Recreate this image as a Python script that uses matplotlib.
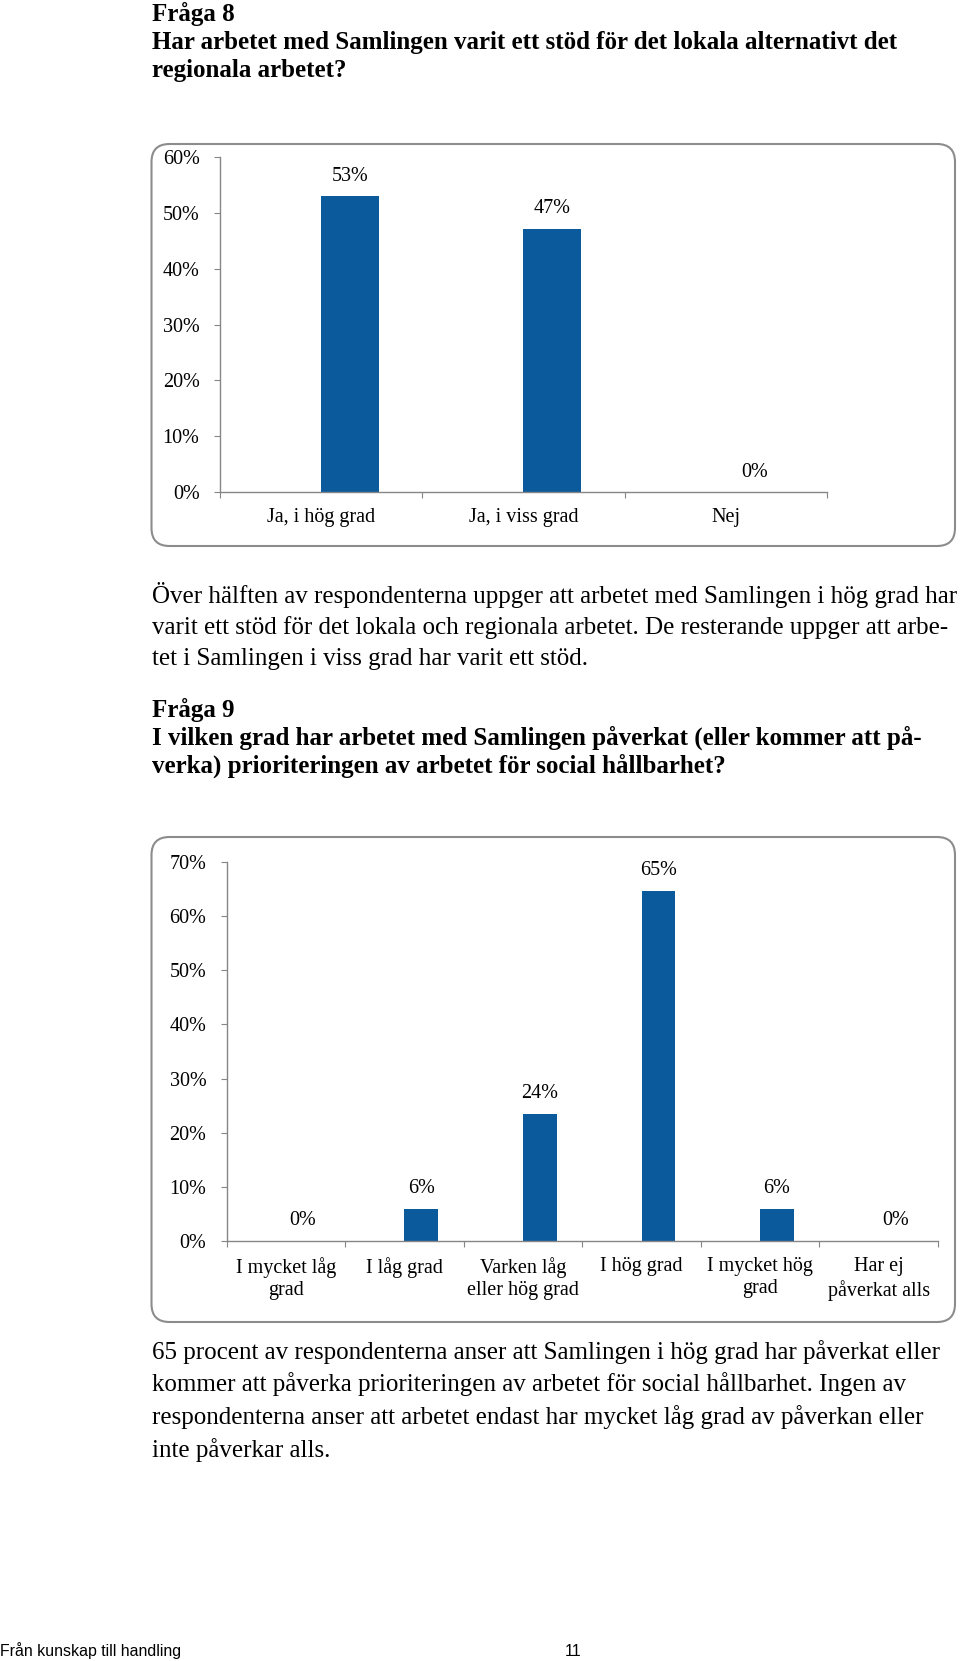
import matplotlib.pyplot as plt
from matplotlib.patches import FancyBboxPatch

plt.rcParams['font.family'] = ['Liberation Serif', 'DejaVu Serif']

W, H = 960, 1661
BLUE = '#0A5A9C'
GRAY = '#868686'

# Fråga 8
q8_categories = ['Ja, i hög grad', 'Ja, i viss grad', 'Nej']
q8_values = [0.5294, 0.4706, 0.0]
q8_yticks = [0.0, 0.1, 0.2, 0.3, 0.4, 0.5, 0.6]

# Fråga 9
q9_categories = ['I mycket låg\ngrad', 'I låg grad', 'Varken låg\neller hög grad',
                 'I hög grad', 'I mycket hög\ngrad', 'Har ej\npåverkat alls']
q9_values = [0.0, 0.0588, 0.2353, 0.6471, 0.0588, 0.0]
q9_yticks = [0.0, 0.1, 0.2, 0.3, 0.4, 0.5, 0.6, 0.7]

q8_title = ['Fråga 8',
            'Har arbetet med Samlingen varit ett stöd för det lokala alternativt det',
            'regionala arbetet?']
q8_text = ['Över hälften av respondenterna uppger att arbetet med Samlingen i hög grad har',
           'varit ett stöd för det lokala och regionala arbetet. De resterande uppger att arbe-',
           'tet i Samlingen i viss grad har varit ett stöd.']
q9_title = ['Fråga 9',
            'I vilken grad har arbetet med Samlingen påverkat (eller kommer att på-',
            'verka) prioriteringen av arbetet för social hållbarhet?']
q9_text = ['65 procent av respondenterna anser att Samlingen i hög grad har påverkat eller',
           'kommer att påverka prioriteringen av arbetet för social hållbarhet. Ingen av',
           'respondenterna anser att arbetet endast har mycket låg grad av påverkan eller',
           'inte påverkar alls.']

fig = plt.figure(figsize=(W / 100, H / 100), dpi=100)

# page in pixel coordinates
page = fig.add_axes([0, 0, 1, 1])
page.set_xlim(0, W)
page.set_ylim(H, 0)
page.axis('off')


def lines(ys, texts, size, bold=False):
    for y, s in zip(ys, texts):
        page.text(152, y, s, fontsize=size, va='baseline', ha='left',
                  fontweight='bold' if bold else 'normal')


lines([21, 49, 77], q8_title, 18, bold=True)
lines([603, 634, 665], q8_text, 18)
lines([717, 745, 773], q9_title, 18, bold=True)
lines([1359, 1391, 1424, 1457], q9_text, 18)

page.text(0, 1656, 'Från kunskap till handling', fontsize=11.4, va='baseline',
          family='Liberation Sans')
page.text(565, 1656, '11', fontsize=11.4, va='baseline', family='Liberation Sans')

for (x0, y0, x1, y1) in [(151.5, 144, 955, 546), (151.5, 837, 955, 1322)]:
    page.add_patch(FancyBboxPatch((x0, y0), x1 - x0, y1 - y0,
                                  boxstyle='round,pad=0,rounding_size=18',
                                  fc='white', ec='#8c8c8c', lw=1.5))


def chart(l, t, r, b, cats, vals, yticks):
    ax = fig.add_axes([l / W, 1 - b / H, (r - l) / W, (b - t) / H])
    ax.set_facecolor('none')
    n = len(cats)
    centers = [i + 0.5 for i in range(n)]
    bw = 0.285
    ax.bar(centers, vals, width=bw, align='edge', color=BLUE)
    for c, v in zip(centers, vals):
        ax.annotate(f'{round(v * 100)}%', (c + bw / 2, v), xytext=(0, 14.5),
                    textcoords='offset points', ha='center', va='center',
                    fontsize=14.5)
    ax.set_xlim(0, n)
    ax.set_ylim(0, yticks[-1])
    ax.set_yticks(yticks)
    ax.set_yticklabels([f'{round(t * 100)}%' for t in yticks])
    ax.set_xticks(range(n + 1))
    ax.set_xticklabels([])
    ax.set_xticks(centers, minor=True)
    ax.set_xticklabels(cats, minor=True, linespacing=1.25)
    ax.tick_params(axis='x', which='minor', length=0, pad=11.5, labelsize=14.5)
    ax.tick_params(axis='x', which='major', length=4.5, color=GRAY)
    ax.tick_params(axis='y', length=4.5, color=GRAY, pad=10, labelsize=14.5)
    for s in ['top', 'right']:
        ax.spines[s].set_visible(False)
    for s in ['left', 'bottom']:
        ax.spines[s].set_color(GRAY)
        ax.spines[s].set_linewidth(1.0)
    return ax


chart(219.7, 156.7, 827, 492.3, q8_categories, q8_values, q8_yticks)
chart(226.5, 862.3, 938, 1240.7, q9_categories, q9_values, q9_yticks)

fig.savefig('out.png', dpi=100)
